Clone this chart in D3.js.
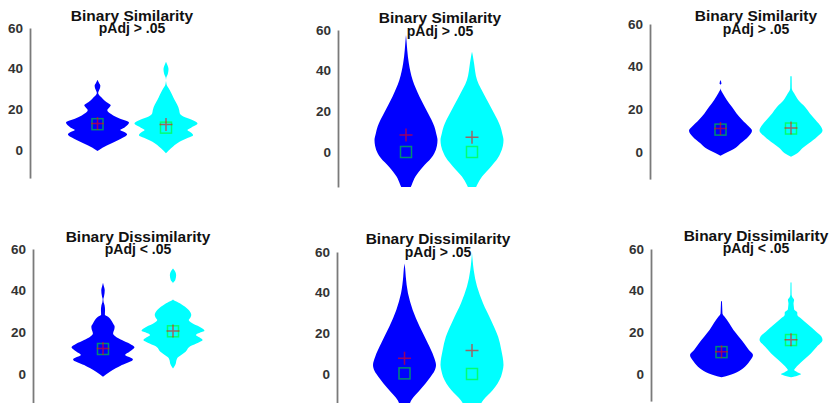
<!DOCTYPE html>
<html><head><meta charset="utf-8">
<script src="https://cdn.jsdelivr.net/npm/d3@7"></script>
<style>
html,body{margin:0;padding:0;background:#fff;}
svg{display:block;}
</style></head>
<body>
<svg id="chart" width="834" height="403"></svg>
<script>
// ---------- data ----------
const groups = ["Group 1", "Group 2"];
const groupColors = ["#0000ff", "#00ffff"];
const yTicks = [0, 20, 40, 60];
const titles = ["Binary Similarity","Binary Similarity","Binary Similarity",
                "Binary Dissimilarity","Binary Dissimilarity","Binary Dissimilarity"];
const subtitles = ["pAdj > .05","pAdj > .05","pAdj > .05","pAdj < .05","pAdj > .05","pAdj < .05"];

// density profiles: [value, relative density]
const p1Blue = [[-0.5,0],[0.5,0.1],[1.6,0.22],[4,0.55],[6,0.8],[7.6,0.94],[8.8,0.85],[9.8,0.72],[11,0.85],[13.5,1.0],[15.5,0.7],[17,0.5],[19.5,0.31],[21,0.38],[22,0.42],[23.6,0.28],[25.5,0.15],[27,0.05],[28,0.02],[29,0.04],[30.5,0.08],[31.7,0.09],[33,0.05],[34.6,0]];
const p1Cyan = [[-1.6,0],[0.8,0.16],[4,0.43],[6,0.7],[7.3,0.86],[8.5,0.8],[9.8,0.68],[11,0.8],[13,1.0],[15,0.8],[16.5,0.55],[17.9,0.44],[19.5,0.42],[21.1,0.39],[23.6,0.31],[26,0.23],[28.5,0.15],[30.5,0.08],[31.7,0.03],[33,0.01],[34,0],[35.6,0.01],[37.5,0.06],[39.8,0.08],[41.5,0.05],[43.4,0]];
const p2Blue = [[-24,0],[-20,0.08],[-16.2,0.18],[-12.1,0.3],[-7.2,0.54],[-3,0.8],[-0.6,0.9],[3,0.98],[5.9,1.0],[9,0.96],[12.5,0.9],[19,0.7],[27.2,0.43],[35.4,0.21],[43.6,0.09],[50,0.04],[54,0.02],[57.5,0]];
const p2Cyan = [[-24,0],[-20,0.07],[-16.2,0.16],[-12.1,0.32],[-7.2,0.6],[-3,0.82],[-0.6,0.9],[3,0.98],[5.9,1.0],[9,0.96],[12.5,0.9],[19,0.7],[27.2,0.42],[35.4,0.16],[43.6,0.065],[47,0.03],[49.3,0]];
const p3Blue = [[-1.7,0],[-0.6,0.15],[1.7,0.46],[4.1,0.64],[7.2,0.88],[10,1.0],[11.9,0.9],[15,0.69],[18.1,0.51],[21.2,0.36],[24.4,0.2],[27.5,0.07],[29.9,0],[31.5,0],[32,0.03],[33.7,0]];
const p3Cyan = [[-2.2,0],[-0.6,0.2],[1.7,0.36],[4.1,0.57],[7.2,0.83],[10,1.0],[11.9,0.95],[15,0.78],[18.1,0.6],[21.2,0.44],[24.4,0.23],[27.5,0.1],[29,0.04],[30,0.025],[35.3,0.02],[35.6,0]];
const p4Blue = [[-1.3,0],[1.1,0.22],[4.3,0.6],[7,0.95],[8,0.85],[9.1,0.7],[10.8,0.85],[12.8,1.0],[14.5,0.85],[16.3,0.6],[18,0.4],[19.5,0.32],[21.5,0.36],[22.7,0.37],[24,0.33],[25.1,0.29],[27.5,0.16],[28.5,0.06],[30.7,0.065],[33,0.05],[34.5,0.02],[36,0.01],[37.1,0.03],[40.3,0.055],[42,0.03],[43.8,0]];
const p4Cyan = [[2.7,0],[4.3,0.07],[7.5,0.13],[9,0.25],[10.7,0.4],[13.4,0.56],[15,0.8],[16.3,0.94],[17.5,0.85],[18.7,0.73],[20,0.88],[20.8,1.0],[22.7,0.84],[24.5,0.6],[25.9,0.5],[27,0.55],[28.3,0.58],[30.7,0.5],[33.9,0.23],[35.9,0],[43.5,0],[45,0.07],[47.5,0.1],[49.5,0.06],[50.7,0]];
const p5Blue = [[-24,0],[-17,0.12],[-12.8,0.22],[-7.9,0.49],[-1.3,0.83],[1.5,0.95],[4.4,1.0],[8.5,0.93],[15.1,0.74],[23.3,0.48],[31.5,0.26],[39.7,0.11],[47.9,0.04],[52,0.02],[54.4,0]];
const p5Cyan = [[-24,0],[-17,0.2],[-12.8,0.36],[-7.9,0.66],[-1.3,0.92],[1.5,0.97],[4.4,1.0],[11.8,0.93],[18.3,0.83],[26.6,0.6],[34.8,0.35],[43,0.16],[51,0.055],[56,0.02],[59.5,0]];
const p6Blue = [[-1.6,0],[0.3,0.4],[2.7,0.68],[5.9,0.88],[9.1,1.0],[11.5,0.87],[14.7,0.72],[17.9,0.55],[21.1,0.38],[24.3,0.25],[27.5,0.1],[29.1,0.03],[34.7,0.015],[35,0]];
const p6Cyan = [[-1.6,0],[-0.8,0.2],[0,0.32],[0.9,0.2],[1.9,0.1],[3,0.15],[4.3,0.23],[6.7,0.4],[9.9,0.63],[13.1,0.82],[16.3,1.0],[17.9,0.97],[20.3,0.8],[23.5,0.56],[26.7,0.32],[28.5,0.2],[29.5,0.2],[31,0.1],[32.3,0.09],[34,0.08],[35.5,0.1],[37,0.04],[38,0.02],[43.8,0.015],[44,0]];

const densities = [[p1Blue,p1Cyan],[p2Blue,p2Cyan],[p3Blue,p3Cyan],[p4Blue,p4Cyan],[p5Blue,p5Cyan],[p6Blue,p6Cyan]];
const means   = [[13,12.5],[8.4,7.2],[11,11.2],[12.3,20.6],[7.7,11.5],[10.7,16.5]];
const medians = [[12.7,11],[0,0],[10.5,11],[12,20.5],[0.3,0],[10.5,16.3]];
const yMins   = [-13.8,-17.2,-12.7,-14,-17,-13];
const yMax = 60;

// ---------- layout (pixel positions per panel) ----------
const layout = [
  {ax:30,  y60:28,  y0:150, bx:97.5, cx:166, tx:132, t1:20.5, t2:33},
  {ax:338, y60:30,  y0:152, bx:406,  cx:472, tx:440, t1:22.5, t2:35.5},
  {ax:650, y60:24,  y0:152, bx:720.5,cx:791, tx:756, t1:21,   t2:33.5},
  {ax:33,  y60:249, y0:374, bx:103,  cx:173, tx:138, t1:241.5,t2:254},
  {ax:337, y60:252, y0:374, bx:404.5,cx:472, tx:438, t1:244,  t2:257},
  {ax:651, y60:249, y0:374, bx:721.5,cx:791, tx:756, t1:240.5,t2:253}
];
const halfWidth = 31.5;
const FONT = "'Liberation Sans', Arial, sans-serif";

const svg = d3.select("#chart");
const defs = svg.append("defs");

layout.forEach((L, i) => {
  const y = d3.scaleLinear().domain([yMins[i], yMax])
    .range([L.y0 + (L.y0 - L.y60) * (-yMins[i]) / yMax, L.y60]);
  const yBottom = y(yMins[i]);
  const x = d3.scalePoint().domain(groups).range([L.bx, L.cx]);
  const w = d3.scaleLinear().domain([0, 1]).range([0, halfWidth]);

  const g = svg.append("g");
  const clipId = "clip" + i;
  defs.append("clipPath").attr("id", clipId).append("rect")
    .attr("x", L.ax).attr("y", y(yMax) - 20).attr("width", 230).attr("height", yBottom - y(yMax) + 20);

  // axis
  const axis = d3.axisLeft(y).tickValues(yTicks).tickSize(0).tickSizeOuter(0)
    .tickPadding(7).tickFormat(d3.format("d"));
  const axG = g.append("g").attr("transform", `translate(${L.ax},0)`).call(axis);
  axG.select(".domain").attr("stroke", "#7a7a7a").attr("stroke-width", 1.8);
  axG.selectAll("text").attr("fill", "#333").attr("font-size", "13.5px")
    .attr("font-weight", "bold").attr("font-family", FONT);

  const vg = g.append("g").attr("clip-path", `url(#${clipId})`);
  groups.forEach((grp, j) => {
    const cxp = x(grp);
    const area = d3.area()
      .curve(d3.curveMonotoneY)
      .y(d => y(d[0]))
      .x0(d => cxp - w(d[1]))
      .x1(d => cxp + w(d[1]));
    vg.append("path").datum(densities[i][j]).attr("d", area)
      .attr("fill", groupColors[j]).attr("stroke", "none");

    // median square
    const s = 11;
    vg.append("rect").attr("x", cxp - s/2).attr("y", y(medians[i][j]) - s/2)
      .attr("width", s).attr("height", s).attr("fill", "none")
      .attr("stroke", "#00ff00").attr("stroke-opacity", 0.55).attr("stroke-width", 1.5);
    // mean plus
    const p = 6.5, my = y(means[i][j]);
    vg.append("path").attr("d", `M${cxp-p},${my}H${cxp+p}M${cxp},${my-p}V${my+p}`)
      .attr("stroke", "#ff0000").attr("stroke-opacity", 0.6).attr("stroke-width", 1.5).attr("fill","none");
  });

  // titles
  g.append("text").attr("x", L.tx).attr("y", L.t1).attr("text-anchor", "middle")
    .attr("font-family", FONT).attr("font-weight", "bold")
    .attr("font-size", "15.5px").attr("fill", "#111").text(titles[i]);
  g.append("text").attr("x", L.tx).attr("y", L.t2).attr("text-anchor", "middle")
    .attr("font-family", FONT).attr("font-weight", "bold")
    .attr("font-size", "14px").attr("fill", "#111").text(subtitles[i]);
});
</script>
</body></html>
